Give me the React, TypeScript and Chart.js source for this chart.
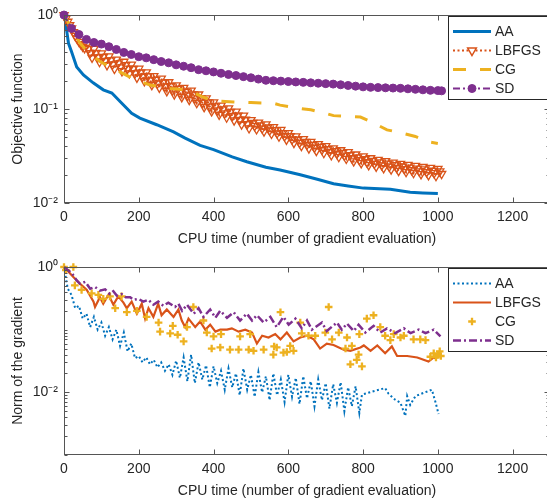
import React, { useEffect, useRef } from 'react';
import { Chart, registerables } from 'chart.js';

Chart.register(...registerables);

// ---------------- data ----------------
const seriesLabels = ['AA', 'LBFGS', 'CG', 'SD'];
const xTitle = 'CPU time (number of gradient evaluation)';
const topYTitle = 'Objective function';
const bottomYTitle = 'Norm of the gradient';
const xTickValues = [0, 200, 400, 600, 800, 1000, 1200];
const xTickLabels = ['0', '200', '400', '600', '800', '1000', '1200'];
const xRange = [0, 1300];
const topYRange = [0.01, 1];
const topYTickValues = [1, 0.1, 0.01];
const topYTickLabels = ['10⁰', '10⁻¹', '10⁻²'];
const bottomYRange = [0.001, 1];
const bottomYTickValues = [1, 0.01];
const bottomYTickLabels = ['10⁰', '10⁻²'];

// top: objective function
const topAAx = [0, 3, 7, 12, 20, 34, 52, 78, 105, 128, 150, 181, 203, 248, 293, 324, 364, 400, 450, 489, 540, 578, 632, 680, 721, 760, 801, 873, 926, 960, 1000];
const topAAy = [1.0, 0.9, 0.69, 0.5, 0.41, 0.28, 0.23, 0.19, 0.16, 0.148, 0.12, 0.09, 0.08, 0.068, 0.057, 0.049, 0.041, 0.037, 0.031, 0.0275, 0.024, 0.0224, 0.02, 0.0178, 0.016, 0.0152, 0.0144, 0.014, 0.013, 0.0128, 0.0126];

const topLBx = [
  0, 5, 10, 15, 20, 25, 30, 35, 40, 45, 50, 55, 60, 65, 70, 75, 80, 85, 90, 95,
  100, 105, 110, 115, 120, 125, 130, 135, 140, 145, 150, 155, 160, 165, 170, 175, 180, 185, 190, 195,
  200, 205, 210, 215, 220, 225, 230, 235, 240, 245, 250, 255, 260, 265, 270, 275, 280, 285, 290, 295,
  300, 305, 310, 315, 320, 325, 330, 335, 340, 345, 350, 355, 360, 365, 370, 375, 380, 385, 390, 395,
  400, 405, 410, 415, 420, 425, 430, 435, 440, 445, 450, 455, 460, 465, 470, 475, 480, 485, 490, 495,
  500, 505, 510, 515, 520, 525, 530, 535, 540, 545, 550, 555, 560, 565, 570, 575, 580, 585, 590, 595,
  600, 605, 610, 615, 620, 625, 630, 635, 640, 645, 650, 655, 660, 665, 670, 675, 680, 685, 690, 695,
  700, 705, 710, 715, 720, 725, 730, 735, 740, 745, 750, 755, 760, 765, 770, 775, 780, 785, 790, 795,
  800, 805, 810, 815, 820, 825, 830, 835, 840, 845, 850, 855, 860, 865, 870, 875, 880, 885, 890, 895,
  900, 905, 910, 915, 920, 925, 930, 935, 940, 945, 950, 955, 960, 965, 970, 975, 980, 985, 990, 995,
  1000, 1005, 1010,
];
const topLBy = [
  1.0, 0.92, 0.85, 0.78, 0.72, 0.66, 0.6, 0.56, 0.52, 0.49, 0.46, 0.445, 0.482, 0.437, 0.394, 0.352, 0.437, 0.395, 0.355, 0.317,
  0.392, 0.359, 0.326, 0.293, 0.364, 0.33, 0.298, 0.268, 0.336, 0.307, 0.278, 0.253, 0.319, 0.294, 0.269, 0.24, 0.297, 0.268, 0.24, 0.216,
  0.269, 0.244, 0.221, 0.198, 0.246, 0.224, 0.202, 0.18, 0.224, 0.205, 0.187, 0.169, 0.211, 0.191, 0.173, 0.155, 0.193, 0.175, 0.158, 0.143,
  0.179, 0.164, 0.149, 0.134, 0.168, 0.153, 0.139, 0.125, 0.157, 0.143, 0.13, 0.116, 0.143, 0.13, 0.117, 0.105, 0.13, 0.118, 0.106, 0.0946,
  0.118, 0.107, 0.097, 0.0871, 0.109, 0.0993, 0.0902, 0.0814, 0.102, 0.0931, 0.0845, 0.0757, 0.0941, 0.0853, 0.0768, 0.0686, 0.0851, 0.077, 0.0691, 0.0625,
  0.0763, 0.0711, 0.066, 0.061, 0.0719, 0.067, 0.0621, 0.0578, 0.0687, 0.0639, 0.0592, 0.0546, 0.0643, 0.0597, 0.0553, 0.051, 0.06, 0.0556, 0.0514, 0.0473,
  0.0556, 0.0515, 0.0475, 0.0437, 0.0512, 0.0474, 0.0437, 0.0405, 0.048, 0.0448, 0.0417, 0.0382, 0.0447, 0.0417, 0.0388, 0.0359, 0.0425, 0.0397, 0.0369, 0.0341,
  0.0403, 0.0376, 0.0349, 0.0323, 0.0382, 0.0358, 0.0335, 0.0309, 0.0365, 0.0343, 0.032, 0.0296, 0.0349, 0.0324, 0.0301, 0.0278, 0.0329, 0.0307, 0.0286, 0.0266,
  0.0314, 0.0293, 0.0272, 0.0253, 0.03, 0.0281, 0.0262, 0.0244, 0.0289, 0.0271, 0.0252, 0.0235, 0.028, 0.0263, 0.0244, 0.0228, 0.027, 0.0253, 0.0237, 0.022,
  0.0262, 0.0245, 0.023, 0.0214, 0.0255, 0.0239, 0.0224, 0.0209, 0.0249, 0.0233, 0.0218, 0.0203, 0.0242, 0.0228, 0.0213, 0.0198, 0.0237, 0.0221, 0.0208, 0.0194,
  0.0231, 0.0217, 0.0204,
];

const topCGx = [0, 20, 43, 60, 96, 140, 185, 230, 284, 329, 347, 370, 400, 453, 500, 560, 578, 632, 660, 700, 721, 793, 819, 864, 891, 940, 971, 1000];
const topCGy = [1.0, 0.72, 0.5, 0.42, 0.32, 0.26, 0.21, 0.18, 0.165, 0.16, 0.15, 0.135, 0.122, 0.119, 0.117, 0.115, 0.11, 0.101, 0.098, 0.09, 0.085, 0.082, 0.074, 0.06, 0.057, 0.051, 0.045, 0.043];

const topSDx = [0, 20, 40, 60, 80, 100, 120, 140, 160, 180, 200, 220, 240, 260, 280, 300, 320, 340, 360, 380, 400, 420, 440, 460, 480, 500, 520, 540, 560, 580, 600, 620, 640, 660, 680, 700, 720, 740, 760, 780, 800, 820, 840, 860, 880, 900, 920, 940, 960, 980, 1000, 1010];
const topSDy = [1.0, 0.72, 0.62, 0.55, 0.51, 0.49, 0.46, 0.43, 0.4, 0.38, 0.36, 0.35, 0.335, 0.32, 0.31, 0.295, 0.285, 0.275, 0.262, 0.255, 0.248, 0.24, 0.233, 0.227, 0.221, 0.215, 0.208, 0.202, 0.2, 0.198, 0.196, 0.194, 0.192, 0.19, 0.188, 0.186, 0.184, 0.181, 0.178, 0.175, 0.172, 0.17, 0.169, 0.168, 0.167, 0.166, 0.164, 0.162, 0.16, 0.158, 0.157, 0.156];

// bottom: norm of the gradient
const botAAx = [0, 10, 20, 30, 40, 50, 60, 70, 80, 90, 100, 110, 120, 130, 140, 150, 160, 170, 180, 190, 200, 210, 220, 230, 240, 250, 260, 270, 280, 290, 300, 310, 320, 330, 340, 350, 360, 370, 380, 390, 400, 410, 420, 430, 440, 450, 460, 470, 480, 490, 500, 510, 520, 530, 540, 550, 560, 570, 580, 590, 600, 610, 620, 630, 640, 650, 660, 670, 680, 690, 700, 710, 720, 730, 740, 750, 760, 770, 780, 790, 797, 828, 859, 868, 886, 900, 913, 918, 926, 940, 962, 984, 993, 1002];
const botAAy = [1.0, 0.45, 0.36, 0.22, 0.24, 0.15, 0.18, 0.11, 0.16, 0.1, 0.13, 0.08, 0.11, 0.07, 0.1, 0.055, 0.09, 0.045, 0.06, 0.035, 0.038, 0.03, 0.036, 0.028, 0.033, 0.025, 0.03, 0.022, 0.028, 0.019, 0.032, 0.017, 0.036, 0.015, 0.04, 0.014, 0.03, 0.016, 0.027, 0.012, 0.026, 0.014, 0.022, 0.011, 0.024, 0.012, 0.02, 0.009, 0.024, 0.011, 0.019, 0.0085, 0.021, 0.01, 0.018, 0.0075, 0.02, 0.009, 0.016, 0.007, 0.019, 0.0085, 0.017, 0.0065, 0.018, 0.008, 0.015, 0.006, 0.016, 0.0075, 0.014, 0.0055, 0.0135, 0.0068, 0.0145, 0.005, 0.012, 0.006, 0.0125, 0.0047, 0.0092, 0.0104, 0.0117, 0.0095, 0.0076, 0.0068, 0.0042, 0.0087, 0.0063, 0.0087, 0.0098, 0.011, 0.0072, 0.0045];

const botLBx = [0, 25, 43, 61, 79, 83, 96, 105, 119, 132, 145, 159, 168, 181, 195, 208, 217, 226, 239, 252, 261, 275, 293, 306, 315, 324, 333, 351, 364, 378, 391, 405, 418, 436, 449, 467, 485, 503, 516, 530, 547, 565, 579, 596, 614, 632, 650, 668, 685, 703, 721, 748, 766, 793, 802, 820, 838, 859, 877, 891, 918, 945, 975, 989, 998];
const botLBy = [1.0, 0.69, 0.54, 0.43, 0.28, 0.23, 0.33, 0.26, 0.36, 0.25, 0.34, 0.27, 0.22, 0.28, 0.18, 0.26, 0.15, 0.22, 0.16, 0.26, 0.17, 0.21, 0.16, 0.21, 0.14, 0.11, 0.15, 0.11, 0.135, 0.1, 0.12, 0.093, 0.1, 0.1, 0.105, 0.093, 0.1, 0.09, 0.06, 0.08, 0.075, 0.085, 0.07, 0.09, 0.065, 0.075, 0.08, 0.07, 0.05, 0.06, 0.057, 0.048, 0.046, 0.052, 0.056, 0.046, 0.056, 0.042, 0.054, 0.038, 0.038, 0.036, 0.031, 0.036, 0.034];

const botCGx = [0, 5, 25, 29, 47, 74, 92, 105, 123, 137, 154, 168, 195, 221, 253, 257, 284, 291, 304, 320, 329, 346, 373, 382, 395, 400, 418, 420, 444, 467, 471, 494, 498, 507, 534, 560, 562, 569, 579, 587, 596, 605, 614, 632, 636, 654, 672, 699, 708, 717, 735, 753, 757, 766, 770, 783, 788, 790, 797, 810, 828, 846, 859, 873, 882, 900, 909, 935, 953, 967, 980, 989, 995, 1000, 1005, 1008];
const botCGy = [1.0, 0.89, 1.0, 0.51, 0.43, 0.38, 0.36, 0.31, 0.34, 0.22, 0.34, 0.19, 0.2, 0.16, 0.13, 0.093, 0.087, 0.115, 0.083, 0.065, 0.11, 0.23, 0.14, 0.09, 0.05, 0.078, 0.052, 0.085, 0.048, 0.048, 0.078, 0.048, 0.085, 0.046, 0.048, 0.04, 0.054, 0.052, 0.19, 0.043, 0.044, 0.055, 0.046, 0.13, 0.087, 0.08, 0.08, 0.09, 0.23, 0.07, 0.09, 0.05, 0.075, 0.028, 0.055, 0.033, 0.04, 0.085, 0.026, 0.15, 0.17, 0.11, 0.08, 0.068, 0.085, 0.075, 0.08, 0.07, 0.07, 0.068, 0.037, 0.042, 0.036, 0.04, 0.045, 0.038];

const botSDx = [0, 21, 34, 43, 57, 70, 83, 96, 110, 123, 132, 141, 154, 165, 177, 186, 199, 212, 226, 239, 252, 266, 279, 297, 306, 316, 329, 347, 360, 373, 391, 405, 418, 436, 454, 471, 489, 503, 516, 534, 552, 569, 587, 601, 619, 636, 650, 663, 690, 703, 730, 743, 757, 775, 788, 806, 828, 846, 864, 886, 909, 927, 949, 967, 989, 1007];
const botSDy = [1.0, 0.8, 0.61, 0.54, 0.58, 0.45, 0.48, 0.42, 0.44, 0.37, 0.41, 0.35, 0.37, 0.33, 0.33, 0.3, 0.31, 0.28, 0.3, 0.25, 0.28, 0.24, 0.27, 0.23, 0.26, 0.2, 0.25, 0.18, 0.22, 0.16, 0.21, 0.155, 0.2, 0.155, 0.19, 0.14, 0.18, 0.14, 0.17, 0.13, 0.16, 0.11, 0.16, 0.12, 0.15, 0.105, 0.14, 0.1, 0.13, 0.095, 0.13, 0.1, 0.125, 0.095, 0.12, 0.09, 0.115, 0.09, 0.105, 0.088, 0.105, 0.088, 0.1, 0.088, 0.1, 0.078];

// ---------------- styles ----------------
const FONT = '"Liberation Sans", Arial, Helvetica, sans-serif';
const TEXT = '#262626';
const AXIS = '#555555';
const C_AA = '#0072BD';
const C_LB = '#D95319';
const C_CG = '#EDB120';
const C_SD = '#7E2F8E';

type Style = { color: string; width: number; dash: number[]; line: boolean; marker: null | 'tri' | 'circle' | 'cross' };

const topStyles: Style[] = [
  { color: C_AA, width: 3, dash: [], line: true, marker: null },
  { color: C_LB, width: 2, dash: [2, 2.5], line: true, marker: 'tri' },
  { color: C_CG, width: 3, dash: [13, 14], line: true, marker: null },
  { color: C_SD, width: 2, dash: [7, 3, 2, 3], line: true, marker: 'circle' },
];
const bottomStyles: Style[] = [
  { color: C_AA, width: 2, dash: [2, 2.5], line: true, marker: null },
  { color: C_LB, width: 2.2, dash: [], line: true, marker: null },
  { color: C_CG, width: 0, dash: [], line: false, marker: 'cross' },
  { color: C_SD, width: 2.5, dash: [8, 3, 2, 3], line: true, marker: null },
];

const pts = (xs: number[], ys: number[]) => xs.map((x, i) => ({ x, y: ys[i] }));

function markerRadius(m: Style['marker']) {
  return m === 'tri' ? 4.8 : m === 'circle' ? 4 : m === 'cross' ? 3.8 : 0;
}

function makeDataset(label: string, data: any[], st: Style, order: number) {
  const m = st.marker;
  return {
    label,
    data,
    order,
    showLine: st.line,
    borderColor: st.color,
    backgroundColor: st.color,
    borderWidth: st.width,
    borderDash: st.dash,
    pointStyle: m === 'tri' ? 'triangle' : m === 'cross' ? 'cross' : 'circle',
    pointRotation: m === 'tri' ? 180 : 0,
    pointRadius: markerRadius(m),
    pointHoverRadius: markerRadius(m),
    pointBorderWidth: m === 'tri' ? 1.3 : m === 'cross' ? 2.3 : 1,
    pointBorderColor: st.color,
    pointBackgroundColor: m === 'tri' ? 'rgba(0,0,0,0)' : st.color,
    clip: false as any,
    tension: 0,
  };
}

function drawMarker(ctx: CanvasRenderingContext2D, m: Style['marker'], x: number, y: number, color: string) {
  if (!m) return;
  const r = m === 'tri' ? 5 : markerRadius(m);
  ctx.save();
  ctx.setLineDash([]);
  ctx.strokeStyle = color;
  ctx.fillStyle = color;
  if (m === 'tri') {
    ctx.lineWidth = 1.5;
    const s = Math.sin(Math.PI / 3) * r;
    ctx.beginPath();
    ctx.moveTo(x, y + r);
    ctx.lineTo(x - s, y - r / 2);
    ctx.lineTo(x + s, y - r / 2);
    ctx.closePath();
    ctx.fillStyle = '#ffffff';
    ctx.fill();
    ctx.stroke();
  } else if (m === 'circle') {
    ctx.lineWidth = 1;
    ctx.beginPath();
    ctx.arc(x, y, r, 0, Math.PI * 2);
    ctx.fill();
    ctx.stroke();
  } else if (m === 'cross') {
    ctx.lineWidth = 2.3;
    ctx.beginPath();
    ctx.moveTo(x - r, y);
    ctx.lineTo(x + r, y);
    ctx.moveTo(x, y - r);
    ctx.lineTo(x, y + r);
    ctx.stroke();
  }
  ctx.restore();
}

function axesBoxPlugin(yMajors: number[], yMin: number, yMax: number) {
  return {
    id: 'axesBox',
    afterDatasetsDraw(chart: any) {
      const { ctx, chartArea: a } = chart;
      const xs = chart.scales.x;
      const ys = chart.scales.y;
      const L = Math.round(a.left) + 0.5;
      const R = Math.round(a.right) - 0.5;
      const T = Math.round(a.top) + 0.5;
      const B = Math.round(a.bottom) - 0.5;
      ctx.save();
      ctx.strokeStyle = AXIS;
      ctx.lineWidth = 1;
      ctx.setLineDash([]);
      ctx.beginPath();
      for (const t of xs.ticks) {
        const p = Math.round(xs.getPixelForValue(t.value)) + 0.5;
        ctx.moveTo(p, B);
        ctx.lineTo(p, B - 5);
        ctx.moveTo(p, T);
        ctx.lineTo(p, T + 5);
      }
      const e0 = Math.round(Math.log10(yMin));
      const e1 = Math.round(Math.log10(yMax));
      for (let e = e0; e < e1; e++) {
        for (let k = 1; k <= 9; k++) {
          const v = k * Math.pow(10, e);
          const major = yMajors.some((mv) => Math.abs(mv - v) / v < 1e-6);
          const len = major ? 5 : 3;
          const p = Math.round(ys.getPixelForValue(v)) + 0.5;
          ctx.moveTo(L, p);
          ctx.lineTo(L + len, p);
          ctx.moveTo(R, p);
          ctx.lineTo(R - len, p);
        }
      }
      ctx.stroke();
      ctx.strokeRect(L, T, R - L, B - T);
      ctx.restore();
    },
  };
}

function boxLegendPlugin(labels: string[], styles: Style[]) {
  return {
    id: 'boxLegend',
    afterDraw(chart: any) {
      const { ctx, chartArea: a } = chart;
      const left = 448.5;
      const right = Math.round(a.right) - 2.5;
      const top = Math.round(a.top) + 1.5;
      const bottom = top + 83;
      ctx.save();
      ctx.fillStyle = '#ffffff';
      ctx.fillRect(left, top, right - left, bottom - top);
      labels.forEach((lab, i) => {
        const st = styles[i];
        const cy = Math.round(a.top + 15.5 + i * 19.3) + 0.5;
        if (st.line) {
          ctx.save();
          ctx.strokeStyle = st.color;
          ctx.lineWidth = st.width;
          ctx.setLineDash(st.dash);
          ctx.beginPath();
          ctx.moveTo(453, cy);
          ctx.lineTo(491, cy);
          ctx.stroke();
          ctx.restore();
        }
        drawMarker(ctx, st.marker, 472, cy, st.color);
        ctx.fillStyle = TEXT;
        ctx.font = `14px ${FONT}`;
        ctx.textBaseline = 'middle';
        ctx.textAlign = 'left';
        ctx.fillText(lab, 495, cy + 0.5);
      });
      ctx.strokeStyle = '#262626';
      ctx.lineWidth = 1;
      ctx.strokeRect(left, top, right - left, bottom - top);
      ctx.restore();
    },
  };
}

function labelFor(values: number[], labels: string[], v: number) {
  const i = values.findIndex((t) => Math.abs(t - v) <= Math.abs(t) * 1e-6);
  return i >= 0 ? labels[i] : '';
}

function makeConfig(
  datasets: any[],
  yRange: number[],
  yTickValues: number[],
  yTickLabels: string[],
  yTitle: string,
  styles: Style[],
) {
  const font = { family: FONT, size: 14 };
  return {
    type: 'line' as const,
    data: { datasets },
    options: {
      responsive: false,
      animation: false as const,
      devicePixelRatio: 1,
      events: [],
      layout: { autoPadding: false, padding: { left: 0, right: 2, top: 15, bottom: 0 } },
      plugins: { legend: { display: false }, tooltip: { enabled: false } },
      scales: {
        x: {
          type: 'linear' as const,
          min: xRange[0],
          max: xRange[1],
          afterBuildTicks: (s: any) => {
            s.ticks = xTickValues.map((v) => ({ value: v }));
          },
          afterFit: (s: any) => {
            s.height = 47;
            s.paddingLeft = 0;
            s.paddingRight = 0;
          },
          grid: { display: false, drawTicks: false },
          border: { display: false },
          ticks: {
            padding: 6,
            color: TEXT,
            font,
            maxRotation: 0,
            autoSkip: false,
            callback: (v: any) => labelFor(xTickValues, xTickLabels, Number(v)),
          },
          title: { display: true, text: xTitle, color: TEXT, font, padding: { top: 0, bottom: 2 } },
        },
        y: {
          type: 'logarithmic' as const,
          min: yRange[0],
          max: yRange[1],
          afterBuildTicks: (s: any) => {
            s.ticks = yTickValues.map((v) => ({ value: v }));
          },
          afterFit: (s: any) => {
            s.width = 64;
            s.paddingTop = 0;
            s.paddingBottom = 0;
          },
          grid: { display: false, drawTicks: false },
          border: { display: false },
          ticks: {
            padding: 6,
            color: TEXT,
            font,
            autoSkip: false,
            callback: (v: any) => labelFor(yTickValues, yTickLabels, Number(v)),
          },
          title: { display: true, text: yTitle, color: TEXT, font, padding: { top: 10, bottom: 0 } },
        },
      },
    },
    plugins: [axesBoxPlugin(yTickValues, yRange[0], yRange[1]), boxLegendPlugin(seriesLabels, styles)],
  };
}

function topConfig() {
  const datasets = [
    makeDataset(seriesLabels[0], pts(topAAx, topAAy), topStyles[0], 3),
    makeDataset(seriesLabels[1], pts(topLBx, topLBy), topStyles[1], 2),
    makeDataset(seriesLabels[2], pts(topCGx, topCGy), topStyles[2], 1),
    makeDataset(seriesLabels[3], pts(topSDx, topSDy), topStyles[3], 0),
  ];
  return makeConfig(datasets, topYRange, topYTickValues, topYTickLabels, topYTitle, topStyles);
}

function bottomConfig() {
  const datasets = [
    makeDataset(seriesLabels[0], pts(botAAx, botAAy), bottomStyles[0], 3),
    makeDataset(seriesLabels[1], pts(botLBx, botLBy), bottomStyles[1], 2),
    makeDataset(seriesLabels[2], pts(botCGx, botCGy), bottomStyles[2], 1),
    makeDataset(seriesLabels[3], pts(botSDx, botSDy), bottomStyles[3], 0),
  ];
  return makeConfig(datasets, bottomYRange, bottomYTickValues, bottomYTickLabels, bottomYTitle, bottomStyles);
}

function ChartCanvas({ make, top }: { make: () => any; top: number }) {
  const ref = useRef<HTMLCanvasElement>(null);
  useEffect(() => {
    const chart = new Chart(ref.current as HTMLCanvasElement, make());
    return () => chart.destroy();
  }, []);
  return (
    <canvas
      ref={ref}
      width={552}
      height={250}
      style={{ position: 'absolute', left: 0, top, width: 552, height: 250, display: 'block' }}
    />
  );
}

export default function App() {
  return (
    <div
      style={{
        position: 'fixed',
        left: 0,
        top: 0,
        width: 547,
        height: 499,
        overflow: 'hidden',
        background: '#ffffff',
      }}
    >
      <ChartCanvas make={topConfig} top={0} />
      <ChartCanvas make={bottomConfig} top={252} />
    </div>
  );
}
